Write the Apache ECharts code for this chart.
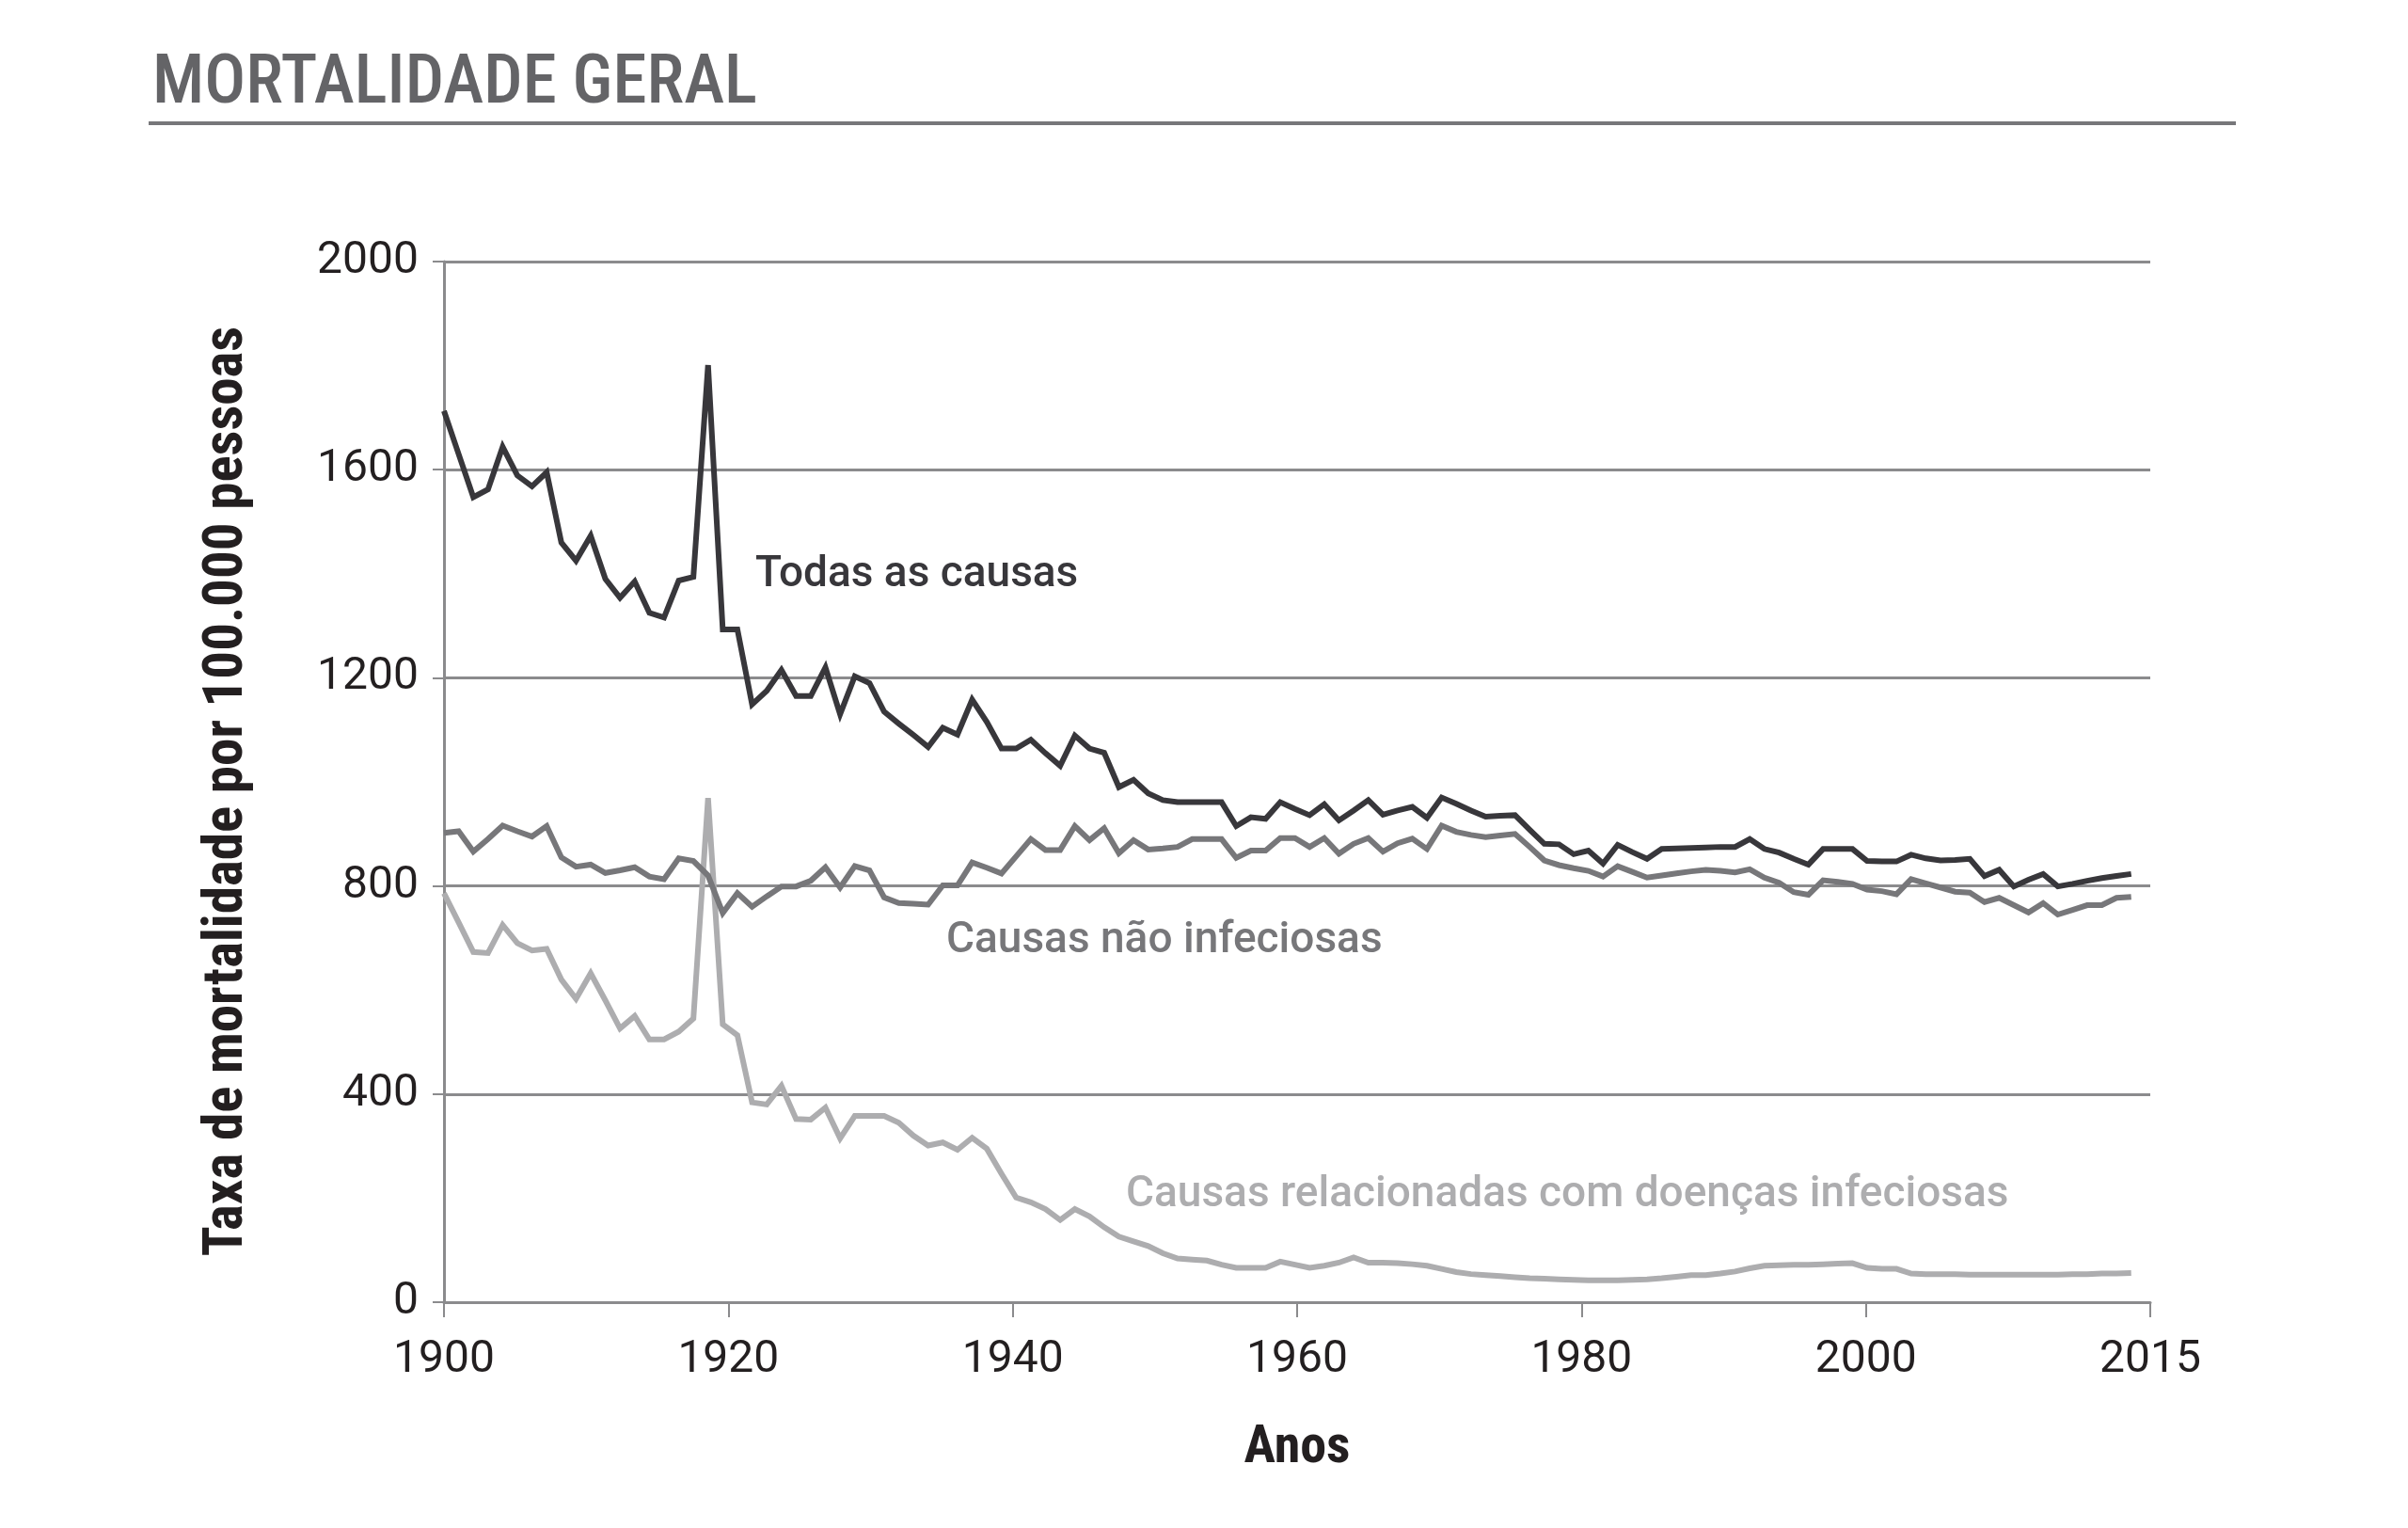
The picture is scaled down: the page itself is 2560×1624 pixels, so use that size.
<!DOCTYPE html>
<html>
<head>
<meta charset="utf-8">
<script src="https://cdn.jsdelivr.net/npm/echarts@6/dist/echarts.min.js"></script>
<style>
  html, body { margin: 0; padding: 0; background: #ffffff; }
  #main { width: 2560px; height: 1624px; }
</style>
</head>
<body>
<div id="main"></div>
<script>
// anos 1900 - 2015, um valor por ano
var primeiroAno = 1900;
var rotulosAnos = ['1900', '1920', '1940', '1960', '1980', '2000', '2015'];

var todasCausas = [
  1713, 1630, 1547, 1562, 1644, 1589, 1568, 1595, 1460, 1425,
  1473, 1390, 1354, 1385, 1325, 1316, 1387, 1394, 1801, 1293,
  1293, 1149, 1175, 1215, 1165, 1165, 1220, 1130, 1203, 1190,
  1135, 1112, 1090, 1067, 1104, 1091, 1158, 1115, 1064, 1064,
  1081, 1055, 1031, 1089, 1064, 1056, 990, 1004, 978, 965,
  961, 961, 961, 961, 915, 932, 929, 961, 948, 936,
  957, 926, 945, 965, 937, 945, 952, 931, 970, 958,
  945, 933, 935, 936, 908, 881, 880, 861, 868, 843,
  879, 865, 852, 871, 872, 873, 874, 875, 875, 890,
  871, 864, 852, 841, 871, 871, 871, 848, 847, 847,
  860, 853, 849, 850, 852, 819, 831, 799, 812, 823,
  799, 804, 810, 815, 819, 823
];

var naoInfeciosas = [
  902, 905, 866, 890, 916, 905, 895, 915, 855, 837,
  841, 825, 830, 836, 818, 813, 853, 848, 820, 748,
  786, 760, 780, 799, 799, 810, 836, 797, 838, 830,
  778, 767, 766, 764, 801, 801, 845, 835, 824, 857,
  890, 869, 869, 915, 888, 911, 863, 888, 870, 872,
  875, 890, 890, 890, 854, 868, 868, 892, 892, 875,
  892, 862, 881, 892, 866, 882, 891, 871, 916, 904,
  898, 894, 897, 900, 875, 849, 840, 834, 829, 818,
  838, 827, 816, 820, 824, 828, 831, 829, 826, 832,
  816, 806, 788, 783, 811, 808, 804, 793, 790, 784,
  813, 805, 797, 789, 787, 769, 777, 763, 749, 767,
  745, 754, 763, 763, 777, 779
];

var infeciosas = [
  786, 730, 673, 671, 725, 690, 676, 679, 620, 583,
  632, 580, 526, 550, 505, 505, 520, 545, 969, 534,
  513, 384, 380, 416, 352, 351, 374, 315, 358, 358,
  358, 345, 320, 301, 307, 293, 316, 295, 247, 201,
  192, 179, 158, 179, 165, 144, 126, 117, 108, 94,
  84, 82, 80, 72, 66, 66, 66, 78, 72, 66,
  70, 76, 86, 76, 76, 75, 73, 70, 64, 58,
  54, 52, 50, 48, 46, 45, 44, 43, 42, 42,
  42, 43, 44, 46, 49, 52, 52, 55, 59, 65,
  70, 71, 72, 72, 73, 74, 75, 66, 64, 64,
  55, 54, 54, 54, 53, 53, 53, 53, 53, 53,
  53, 54, 54, 55, 55, 56
];

function pares(valores) {
  return valores.map(function (v, i) { return [primeiroAno + i, v]; });
}

var fonte = 'Roboto, "Noto Sans", sans-serif';
var fonteEstreita = '"Roboto Condensed", Roboto, sans-serif';
var cinzaEixo = '#8b8b8d';

var chartDom = document.getElementById('main');
var myChart = echarts.init(chartDom);
var option = {
  backgroundColor: '#ffffff',
  animation: false,
  title: {
    text: 'MORTALIDADE GERAL',
    left: 157,
    top: 49,
    textStyle: { color: '#646467', fontSize: 73, fontWeight: 500, fontFamily: fonteEstreita }
  },
  grid: { left: 472, right: 274, top: 278, bottom: 240, outerBoundsMode: 'none' },
  xAxis: [
    // eixo dos dados (escondido)
    { type: 'value', min: 1900, max: 2016.3, show: false, position: 'top' },
    // eixo visivel com os rotulos
    {
      type: 'category',
      data: rotulosAnos,
      boundaryGap: false,
      position: 'bottom',
      axisLine: { show: true, lineStyle: { color: cinzaEixo, width: 3 } },
      axisTick: { show: true, length: 16, lineStyle: { color: cinzaEixo, width: 2 } },
      axisLabel: { margin: 38, fontSize: 48, color: '#231f20', fontFamily: fonte },
      splitLine: { show: false },
      name: 'Anos',
      nameLocation: 'middle',
      nameGap: 128,
      nameTextStyle: { fontSize: 56, fontWeight: 'bold', color: '#231f20', fontFamily: fonteEstreita }
    }
  ],
  yAxis: {
    type: 'value',
    min: 0,
    max: 2000,
    interval: 400,
    axisLine: { show: true, lineStyle: { color: cinzaEixo, width: 3 } },
    axisTick: { show: true, length: 12, lineStyle: { color: cinzaEixo, width: 2 } },
    axisLabel: {
      margin: 27, fontSize: 48, color: '#231f20', fontFamily: fonte,
      padding: [6, 0, 0, 0],
      formatter: function (v) { return String(v); }
    },
    splitLine: { show: true, lineStyle: { color: cinzaEixo, width: 3 } },
    name: 'Taxa de mortalidade por 100.000 pessoas',
    nameLocation: 'middle',
    nameRotate: 90,
    nameGap: 200,
    nameTextStyle: {
      fontSize: 59, fontWeight: 'bold', color: '#231f20', fontFamily: fonteEstreita,
      padding: [0, 20, 0, 0]
    }
  },
  graphic: [
    { type: 'rect', left: 158, top: 129, shape: { width: 2219, height: 4 }, style: { fill: '#77777a' } },
    { type: 'text', left: 803, top: 588, style: { text: 'Todas as causas', fill: '#38373b', font: '500 46px ' + fonte } },
    { type: 'text', left: 1006, top: 977, style: { text: 'Causas não infeciosas', fill: '#77777a', font: '500 46px ' + fonte } },
    { type: 'text', left: 1197, top: 1247, style: { text: 'Causas relacionadas com doenças infeciosas', fill: '#adadaf', font: '500 46px ' + fonte } }
  ],
  series: [
    {
      name: 'Causas relacionadas com doenças infeciosas',
      type: 'line', xAxisIndex: 0, showSymbol: false, symbol: 'none', silent: true,
      lineStyle: { color: '#adadaf', width: 6, join: 'miter' },
      data: pares(infeciosas)
    },
    {
      name: 'Causas não infeciosas',
      type: 'line', xAxisIndex: 0, showSymbol: false, symbol: 'none', silent: true,
      lineStyle: { color: '#77777a', width: 6, join: 'miter' },
      data: pares(naoInfeciosas)
    },
    {
      name: 'Todas as causas',
      type: 'line', xAxisIndex: 0, showSymbol: false, symbol: 'none', silent: true,
      lineStyle: { color: '#38373b', width: 6, join: 'miter' },
      data: pares(todasCausas)
    }
  ]
};
myChart.setOption(option);
</script>
</body>
</html>
